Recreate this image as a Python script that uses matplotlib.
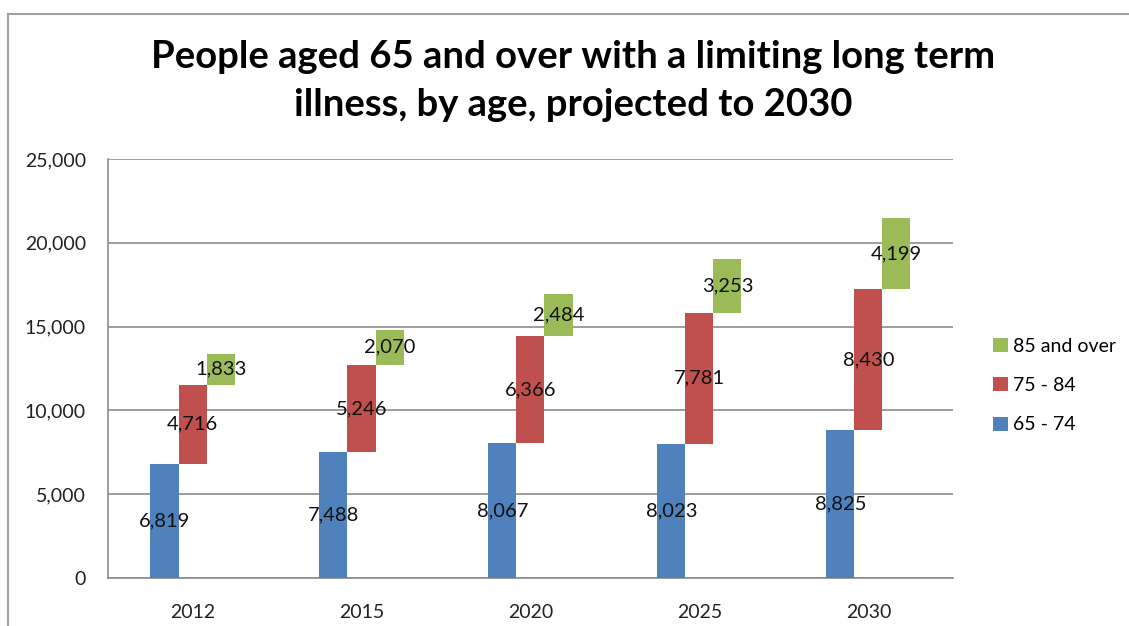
import numpy as np
import matplotlib.pyplot as plt
from matplotlib.lines import Line2D
from matplotlib.patches import Patch

# data
years = ["2012", "2015", "2020", "2025", "2030"]
age_65_74 = [6819, 7488, 8067, 8023, 8825]
age_75_84 = [4716, 5246, 6366, 7781, 8430]
age_85_plus = [1833, 2070, 2484, 3253, 4199]
series_names = ["65 - 74", "75 - 84", "85 and over"]
colors = ["#4F81BD", "#C0504D", "#9BBB59"]

plt.rcParams["font.family"] = ["Lato", "DejaVu Sans"]

fig = plt.figure(figsize=(11.29, 6.26), dpi=100)
ax = fig.add_axes([0.0957, 0.0767, 0.7483, 0.6693])

x = np.arange(len(years))
w = 0.166
series = [age_65_74, age_75_84, age_85_plus]
bottom = np.zeros(len(years))
for k, vals in enumerate(series):
    vals = np.array(vals)
    pos = x + (k - 1) * w
    ax.bar(pos, vals, w, bottom=bottom, color=colors[k], edgecolor="none", zorder=3)
    for p, b, v in zip(pos, bottom, vals):
        ax.text(p, b + v / 2, f"{v:,}", ha="center", va="center",
                fontsize=14.5, color="#111111", zorder=4)
    bottom = bottom + vals

ax.set_xlim(-0.5, 4.5)
ax.set_ylim(0, 25000)
ax.set_yticks(range(0, 25001, 5000))
ax.set_yticklabels([f"{v:,}" for v in range(0, 25001, 5000)])
ax.set_xticks(x)
ax.set_xticklabels(years)
ax.tick_params(axis="both", length=0, labelsize=14, colors="#222222")
ax.tick_params(axis="x", pad=19)
ax.tick_params(axis="y", pad=16)
ax.yaxis.grid(True, color="#8c8c8c", linewidth=1.2, zorder=0)
for s in ["top", "right"]:
    ax.spines[s].set_visible(False)
for s in ["left", "bottom"]:
    ax.spines[s].set_color("#8c8c8c")
    ax.spines[s].set_linewidth(1.2)

fig.text(0.508, 0.870, "People aged 65 and over with a limiting long term\nillness, by age, projected to 2030",
         ha="center", va="center", fontsize=27.5, fontweight="bold", linespacing=1.5)

handles = [Patch(facecolor=colors[k], edgecolor="none", label=series_names[k]) for k in [2, 1, 0]]
fig.legend(handles=handles, loc="center left", bbox_to_anchor=(0.864, 0.384), frameon=False,
           fontsize=14, handlelength=0.75, handleheight=0.75, handletextpad=0.3, labelspacing=1.15)

# outer chart frame
fig.add_artist(Line2D([0.0075, 0.0075], [0, 0.978], color="#a0a0a0", linewidth=1.5))
fig.add_artist(Line2D([0.0075, 1.0], [0.978, 0.978], color="#a0a0a0", linewidth=1.5))

fig.savefig("out.png", dpi=100)
